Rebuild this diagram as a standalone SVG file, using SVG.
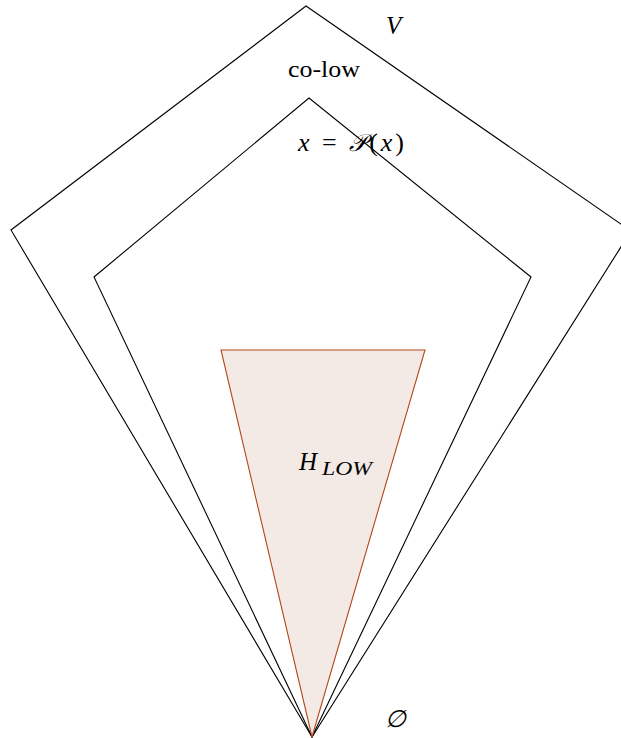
<svg xmlns="http://www.w3.org/2000/svg" width="621" height="738" viewBox="0 0 621 738">
<style>
.ln{fill:none;stroke:#000;stroke-width:1.1;stroke-linejoin:miter}
.t{font-family:"Liberation Serif","DejaVu Serif",serif;fill:#000}
.i{font-style:italic}
</style>
<rect width="621" height="738" fill="#fff"/>
<g id="outer"><polygon class="ln" points="312,737 11,230 306,6 631,231"/></g>
<g id="inner"><polygon class="ln" points="312,737 94,277 309,98 531,277"/></g>
<g id="hlow"><polygon points="221,350 425,350 312,737" fill="#f3eae5" stroke="#b5461a" stroke-width="1.1"/>
<text class="t i" x="299" y="470" font-size="25">H</text>
<text class="t i" x="322" y="475" font-size="19" textLength="50" lengthAdjust="spacingAndGlyphs">LOW</text></g>
<g id="labels">
<text class="t i" x="386" y="34" font-size="25">V</text>
<text class="t" x="288" y="77" font-size="24" textLength="72" lengthAdjust="spacingAndGlyphs">co-low</text>
<text class="t" x="298" y="151" font-size="26" textLength="106" lengthAdjust="spacing"><tspan class="i">x</tspan> = <tspan font-family="'DejaVu Serif',serif" font-style="italic" font-size="24">𝒫</tspan>(<tspan class="i">x</tspan>)</text>
<text class="t i" x="385" y="727" font-size="24">∅</text>
</g>
</svg>
